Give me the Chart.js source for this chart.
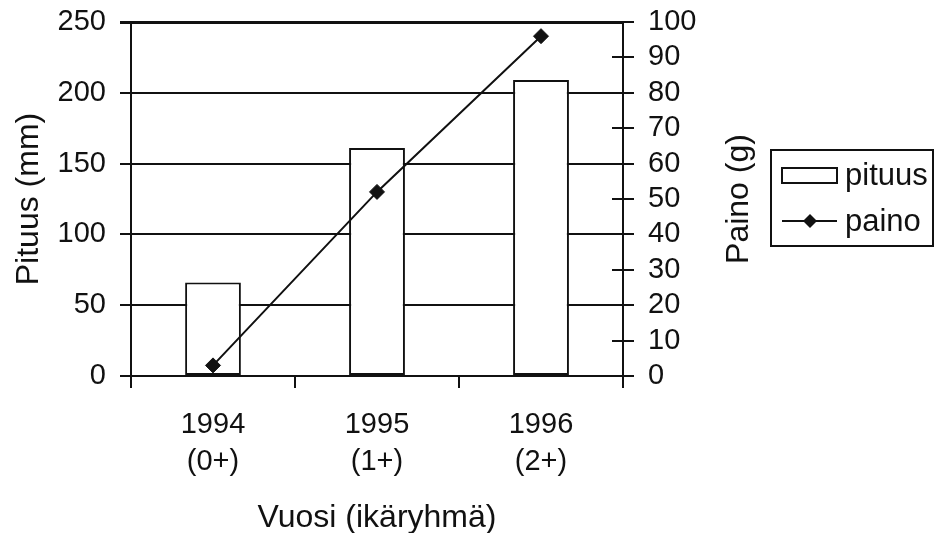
<!DOCTYPE html>
<html>
<head>
<meta charset="utf-8">
<script src="https://cdn.jsdelivr.net/npm/chart.js@4.4.1/dist/chart.umd.min.js"></script>
<style>
  html, body { margin: 0; padding: 0; background: #fff; }
  #chart { display: block; }
</style>
</head>
<body>
<canvas id="chart" width="935" height="533"></canvas>
<script>
// values
const years = ['1994', '1995', '1996'];
const ageGroups = ['(0+)', '(1+)', '(2+)'];
const lengthMm = [66, 161, 209];   // pituus, left axis
const weightG = [3, 52, 96];       // paino, right axis

const leftTicks = [0, 50, 100, 150, 200, 250];
const rightTicks = [0, 10, 20, 30, 40, 50, 60, 70, 80, 90, 100];

const INK = '#111';
const FONT = 'Liberation Sans, Arial, Helvetica, sans-serif';

// right axis title reads bottom-to-top, so draw it here instead of via scale title
// also draws inward tick marks on the right axis and the boxed legend
const extras = {
    id: 'extras',
    afterDraw(chart) {
        const ctx = chart.ctx;
        const area = chart.chartArea;
        const y1 = chart.scales.y1;

        ctx.save();
        ctx.strokeStyle = INK;
        ctx.lineWidth = 2;
        y1.ticks.forEach(t => {
            const py = Math.round(y1.getPixelForValue(t.value));
            ctx.beginPath();
            ctx.moveTo(area.right - 11, py);
            ctx.lineTo(area.right, py);
            ctx.stroke();
        });

        // right title
        ctx.fillStyle = INK;
        ctx.font = '32px ' + FONT;
        ctx.textAlign = 'center';
        ctx.textBaseline = 'middle';
        ctx.translate(739, (area.top + area.bottom) / 2);
        ctx.rotate(-Math.PI / 2);
        ctx.fillText('Paino (g)', 0, 0);
        ctx.restore();

        // legend
        ctx.save();
        ctx.strokeStyle = INK;
        ctx.lineWidth = 2;
        ctx.strokeRect(771, 150, 162, 96);

        const ds = chart.data.datasets;
        const bar = ds.find(d => d.type === 'bar');
        const line = ds.find(d => d.type === 'line');

        ctx.fillStyle = '#fff';
        ctx.fillRect(782, 168, 55, 15);
        ctx.strokeRect(782, 168, 55, 15);

        ctx.beginPath();
        ctx.moveTo(782, 221);
        ctx.lineTo(837, 221);
        ctx.stroke();
        ctx.fillStyle = INK;
        ctx.beginPath();
        ctx.moveTo(810, 214);
        ctx.lineTo(817, 221);
        ctx.lineTo(810, 228);
        ctx.lineTo(803, 221);
        ctx.closePath();
        ctx.fill();

        ctx.font = '31px ' + FONT;
        ctx.textAlign = 'left';
        ctx.textBaseline = 'middle';
        ctx.fillText(bar.label, 845, 176);
        ctx.fillText(line.label, 845, 222);
        ctx.restore();
    }
};

const labels = years.map((y, i) => [y, ageGroups[i]]);

new Chart(document.getElementById('chart'), {
    data: {
        labels,
        datasets: [
            {
                type: 'line',
                label: 'paino',
                data: weightG,
                yAxisID: 'y1',
                order: 0,
                borderColor: INK,
                borderWidth: 2,
                pointStyle: 'rectRot',
                pointRadius: 7.5,
                pointBackgroundColor: INK,
                pointBorderColor: INK,
                pointBorderWidth: 1,
                tension: 0
            },
            {
                type: 'bar',
                label: 'pituus',
                data: lengthMm,
                yAxisID: 'y',
                order: 1,
                backgroundColor: '#fff',
                borderColor: INK,
                borderWidth: 2,
                borderSkipped: false,
                barPercentage: 0.34,
                categoryPercentage: 1
            }
        ]
    },
    options: {
        responsive: false,
        devicePixelRatio: 1,
        animation: false,
        layout: { padding: { top: 22, left: 0, right: 0, bottom: 0 } },
        plugins: {
            legend: { display: false },
            tooltip: { enabled: false }
        },
        scales: {
            x: {
                offset: true,
                grid: { display: true, offset: true, drawOnChartArea: false, color: INK, lineWidth: 2, tickLength: 12 },
                border: { color: INK, width: 2 },
                ticks: {
                    color: INK,
                    padding: 18,
                    maxRotation: 0,
                    font: { family: FONT, size: 29, lineHeight: 1.28 }
                },
                title: {
                    display: true,
                    text: 'Vuosi (ikäryhmä)',
                    color: INK,
                    font: { family: FONT, size: 32 },
                    padding: { top: 0, bottom: -4 }
                },
                afterFit: s => { s.height = 157; }
            },
            y: {
                position: 'left',
                min: 0,
                max: 250,
                afterBuildTicks: s => { s.ticks = leftTicks.map(v => ({ value: v })); },
                grid: {
                    color: INK,
                    lineWidth: c => (c.tick && c.tick.value === 250 ? 3 : 2),
                    tickLength: 11
                },
                border: { color: INK, width: 2 },
                ticks: {
                    color: INK,
                    padding: 14,
                    autoSkip: false,
                    font: { family: FONT, size: 29 }
                },
                title: {
                    display: true,
                    text: 'Pituus (mm)',
                    color: INK,
                    font: { family: FONT, size: 32 },
                    padding: { top: 10, bottom: 0 }
                },
                afterFit: s => { s.width = 131; s.paddingTop = 0; s.paddingBottom = 0; }
            },
            y1: {
                position: 'right',
                min: 0,
                max: 100,
                afterBuildTicks: s => { s.ticks = rightTicks.map(v => ({ value: v })); },
                grid: { drawOnChartArea: false, color: INK, lineWidth: 2, tickLength: 11 },
                border: { color: INK, width: 2 },
                ticks: {
                    color: INK,
                    padding: 14,
                    autoSkip: false,
                    font: { family: FONT, size: 29 }
                },
                afterFit: s => { s.width = 312; s.paddingTop = 0; s.paddingBottom = 0; }
            }
        }
    },
    plugins: [extras]
});
</script>
</body>
</html>
